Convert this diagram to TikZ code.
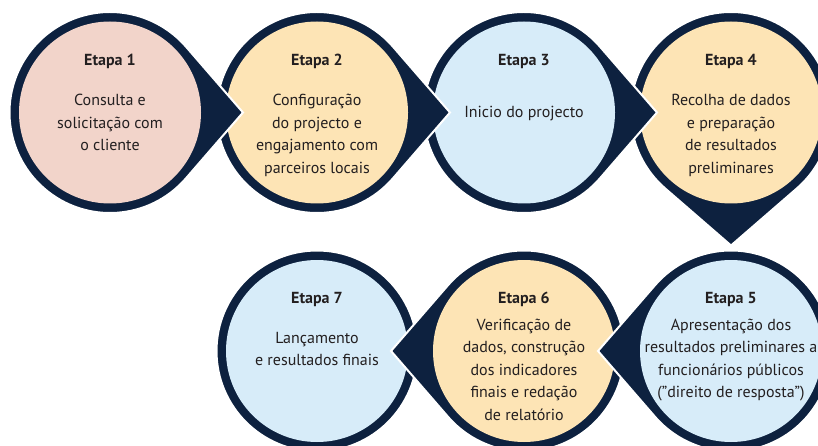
\documentclass[tikz,border=0pt]{standalone}
\usepackage{fontspec}
\setmainfont{PT Sans}
\usepackage{tikz}
\usetikzlibrary{calc}

\definecolor{azulescuro}{HTML}{0D213F}
\definecolor{rosa}{HTML}{F2D4CA}
\definecolor{creme}{HTML}{FDE4B5}
\definecolor{azulclaro}{HTML}{D7ECF9}
\definecolor{cinzatexto}{HTML}{231F20}

\begin{document}
\begin{tikzpicture}[x=1pt,y=-1pt,
    gota/.style={fill=azulescuro, draw=white, line width=2pt},
    titulo/.style={anchor=base, inner sep=0pt, text=cinzatexto,
      font=\fontsize{16}{22.5}\selectfont\bfseries},
    texto/.style={anchor=base, inner sep=0pt, align=center, text=cinzatexto,
      font=\fontsize{16}{22.5}\selectfont}]
  \clip (0,0) rectangle (818,446);

  % Centros das etapas
  \coordinate (c1) at (110,112.5);
  \coordinate (c2) at (317,112.5);
  \coordinate (c3) at (524,112.5);
  \coordinate (c4) at (731,112.5);
  \coordinate (c5) at (731,351);
  \coordinate (c6) at (524,351);
  \coordinate (c7) at (317,351);

  % Etapa 4 (aponta para baixo)
  \path[gota] ($(c4)+(90:133)$) -- ($(c4)+(131:100.5)$)
    arc[start angle=131, end angle=409, radius=100.5] -- cycle;
  \fill[creme] (c4) circle (91);

  % Etapa 3
  \path[gota] ($(c3)+(0:133)$) -- ($(c3)+(41:100.5)$)
    arc[start angle=41, end angle=319, radius=100.5] -- cycle;
  \fill[azulclaro] (c3) circle (91);

  % Etapa 2
  \path[gota] ($(c2)+(0:133)$) -- ($(c2)+(41:100.5)$)
    arc[start angle=41, end angle=319, radius=100.5] -- cycle;
  \fill[creme] (c2) circle (91);

  % Etapa 1
  \path[gota] ($(c1)+(0:133)$) -- ($(c1)+(41:100.5)$)
    arc[start angle=41, end angle=319, radius=100.5] -- cycle;
  \fill[rosa] (c1) circle (91);

  % Etapa 7
  \path[gota] (c7) circle (100.5);
  \fill[azulclaro] (c7) circle (91);

  % Etapa 6 (aponta para a esquerda)
  \path[gota] ($(c6)+(180:133)$) -- ($(c6)+(221:100.5)$)
    arc[start angle=221, end angle=499, radius=100.5] -- cycle;
  \fill[creme] (c6) circle (91);

  % Etapa 5
  \path[gota] ($(c5)+(180:133)$) -- ($(c5)+(221:100.5)$)
    arc[start angle=221, end angle=499, radius=100.5] -- cycle;
  \fill[azulclaro] (c5) circle (91);

  % Textos (base = ultima linha)
  \node[titulo] (t1) at (110,66) {Etapa 1};
  \node[texto] (d1) at (110,151) {Consulta e\\solicitação com\\o cliente};
  \node[titulo] (t2) at (317,66) {Etapa 2};
  \node[texto] (d2) at (317,173.5) {Configuração\\do projecto e\\engajamento com\\parceiros locais};
  \node[titulo] (t3) at (524,66) {Etapa 3};
  \node[texto] (d3) at (524,118) {Inicio do projecto};
  \node[titulo] (t4) at (731,66) {Etapa 4};
  \node[texto] (d4) at (731,173.5) {Recolha de dados\\e preparação\\de resultados\\preliminares};
  \node[titulo] (t5) at (731,303) {Etapa 5};
  \node[texto] (d5) at (731,397.5) {Apresentação dos\\resultados preliminares a\\funcionários públicos\\(”direito de resposta”)};
  \node[titulo] (t6) at (524,303) {Etapa 6};
  \node[texto] (d6) at (524,420) {Verificação de\\dados, construção\\dos indicadores\\finais e redação\\de relatório};
  \node[titulo] (t7) at (317,303) {Etapa 7};
  \node[texto] (d7) at (317,365.5) {Lançamento\\e resultados finais};
\end{tikzpicture}
\end{document}
